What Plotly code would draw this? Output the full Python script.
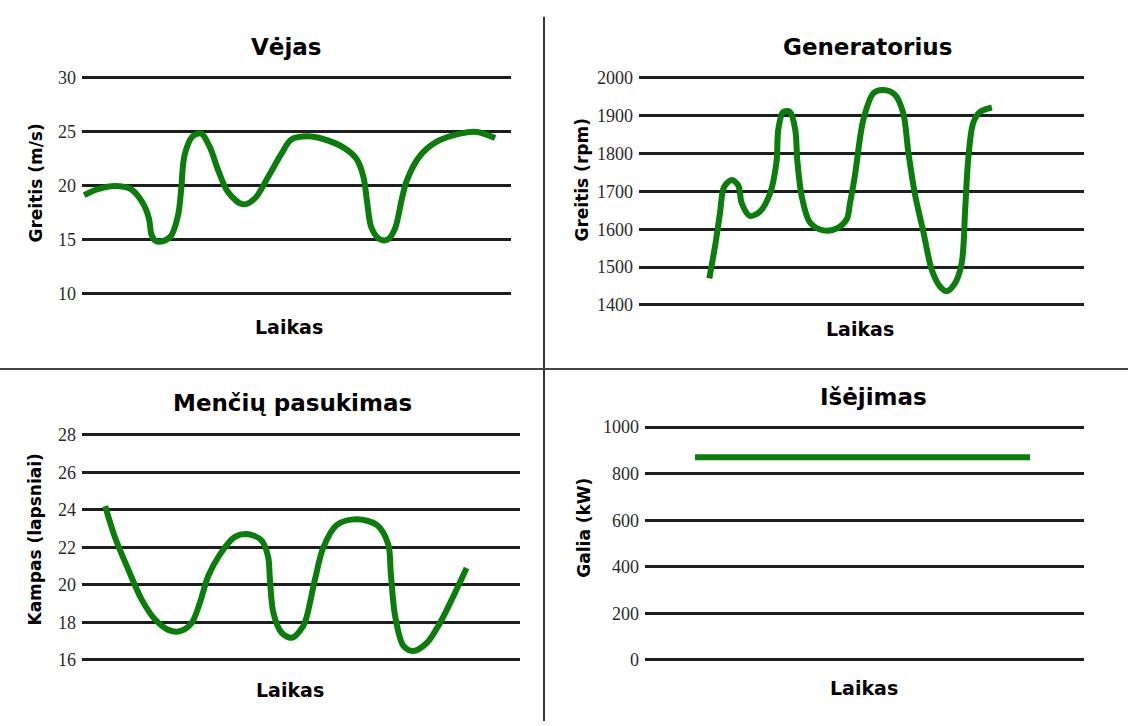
import plotly.graph_objects as go

W, H = 1128, 726

# ---------------- data ----------------
# Panel 1: Vėjas (wind speed, m/s)
wind_t = [0.5, 3.7, 7.7, 11.4, 14.2, 15.6, 16.2, 17.2, 18.4, 20.7, 22.4, 23.1, 23.9,
          25.8, 27.8, 29.8, 31.7, 34.0, 37.5, 40.3, 43.4, 46.5, 48.8, 52.7, 56.2,
          60.8, 64.0, 65.6, 66.4, 67.5, 69.5, 71.3, 73.0, 74.5, 75.7, 78.8, 82.7,
          88.1, 92.0, 96.3]
wind_v = [19.15, 19.7, 20.0, 19.7, 18.4, 17.0, 15.5, 14.9, 14.85, 15.35, 17.3, 19.6,
          22.85, 24.6, 24.85, 23.6, 21.5, 19.45, 18.3, 18.85, 20.85, 23.0, 24.3, 24.6,
          24.35, 23.6, 22.5, 20.85, 18.7, 16.1, 15.05, 15.05, 16.1, 18.7, 20.5, 22.8,
          24.1, 24.85, 25.0, 24.45]
wind_ticks = [10, 15, 20, 25, 30]

# Panel 2: Generatorius (rpm)
gen_t = [15.8, 17.1, 18.2, 19.1, 20.8, 22.3, 23.1, 24.9, 27.2, 29.4, 30.9, 31.3, 32.4,
         33.9, 35.1, 35.6, 36.6, 38.4, 41.4, 44.4, 46.7, 47.4, 48.5, 50.4, 52.7, 54.9,
         57.5, 59.4, 60.5, 62.0, 63.9, 65.8, 67.6, 69.1, 71.0, 72.5, 73.3, 74.0, 75.1,
         76.6, 79.3]
gen_v = [1470, 1556, 1643, 1711, 1730, 1716, 1668, 1635, 1647, 1693, 1778, 1864, 1910,
         1910, 1864, 1778, 1685, 1618, 1597, 1602, 1627, 1668, 1740, 1889, 1960, 1968,
         1956, 1906, 1806, 1693, 1593, 1492, 1449, 1436, 1457, 1509, 1652, 1788, 1881,
         1910, 1922]
gen_ticks = [1400, 1500, 1600, 1700, 1800, 1900, 2000]

# Panel 3: Menčių pasukimas (pitch angle, degrees)
pitch_t = [5.3, 7.5, 10.6, 13.6, 16.7, 19.7, 22.4, 25.0, 26.9, 28.8, 31.5, 34.9, 38.0,
           41.0, 42.5, 42.9, 43.7, 45.6, 47.9, 50.5, 51.3, 53.2, 55.1, 58.2, 62.7,
           67.3, 69.9, 70.5, 71.5, 73.4, 75.6, 78.7, 81.7, 84.8, 87.8]
pitch_v = [24.2, 22.56, 20.8, 19.23, 18.15, 17.6, 17.53, 17.96, 19.04, 20.46, 21.63,
           22.56, 22.7, 22.37, 21.49, 20.3, 18.5, 17.44, 17.18, 17.8, 18.3, 20.3, 22.0,
           23.2, 23.5, 23.2, 22.18, 20.63, 18.32, 16.74, 16.47, 16.9, 17.96, 19.4, 20.9]
pitch_ticks = [16, 18, 20, 22, 24, 26, 28]

# Panel 4: Išėjimas (output power, kW)
power_t = [11.4, 87.7]
power_v = [870, 870]
power_ticks = [0, 200, 400, 600, 800, 1000]

titles = ["Vėjas", "Generatorius", "Menčių pasukimas", "Išėjimas"]
ytitles = ["Greitis (m/s)", "Greitis (rpm)", "Kampas (lapsniai)", "Galia (kW)"]
xtitle = "Laikas"

# ---------------- layout helpers ----------------
PAD = 5


def ydom(ptop, pbot):
    return [1 - (pbot + PAD) / H, 1 - (ptop - PAD) / H]


def yrng(lo, hi, ptop, pbot):
    u = (hi - lo) / (pbot - ptop) * PAD
    return [lo - u, hi + u]


# (x_left_px, x_right_px, y_top_px, y_bottom_px)
boxes = [
    (82, 511, 74, 293),
    (639, 1084, 74, 304),
    (82, 520, 436, 664),
    (645, 1084, 428, 664),
]
series = [(wind_t, wind_v, wind_ticks), (gen_t, gen_v, gen_ticks),
          (pitch_t, pitch_v, pitch_ticks), (power_t, power_v, power_ticks)]

GREEN = "#0b7d0b"
GRID = "#1e1e1e"
tickfont = dict(family="Liberation Serif, DejaVu Serif, serif", size=18, color="#2a2a2a")

fig = go.Figure()
layout = dict(
    width=W, height=H, margin=dict(l=0, r=0, t=0, b=0),
    paper_bgcolor="white", plot_bgcolor="white", showlegend=False,
)

for i, ((t, v, ticks), (xl, xr, yt, yb)) in enumerate(zip(series, boxes)):
    n = "" if i == 0 else str(i + 1)
    shape = "spline" if i < 3 else "linear"
    fig.add_trace(go.Scatter(
        x=t, y=v, mode="lines",
        line=dict(color=GREEN, width=6, shape=shape, smoothing=0.9),
        xaxis="x" + n, yaxis="y" + n, hoverinfo="skip",
    ))
    layout["xaxis" + n] = dict(
        domain=[xl / W, xr / W], range=[0, 100], anchor="y" + n,
        showgrid=False, zeroline=False, showticklabels=False, ticks="",
        showline=False, fixedrange=True,
    )
    layout["yaxis" + n] = dict(
        domain=ydom(yt, yb), range=yrng(min(ticks), max(ticks), yt, yb),
        anchor="x" + n, tickmode="array", tickvals=ticks,
        ticktext=[str(k) for k in ticks],
        showgrid=True, gridcolor=GRID, gridwidth=3, zeroline=False,
        showline=False, ticks="", tickfont=tickfont, ticklabelstandoff=5,
        fixedrange=True,
    )

fig.update_layout(**layout)

# titles and axis labels
title_pos = [(286, 43), (868, 43), (293, 404), (873, 397)]
xlab_pos = [(289, 327), (860, 329), (290, 695), (864, 693)]
ylab_pos = [(36, 181), (582, 177), (35, 542), (584, 530)]
ann = []
for i in range(4):
    tx, ty = title_pos[i]
    ann.append(dict(text="<b>%s</b>" % titles[i], x=tx / W, y=1 - ty / H,
                    xref="paper", yref="paper", showarrow=False,
                    xanchor="center", yanchor="middle",
                    font=dict(family="DejaVu Sans", size=23, color="black")))
    lx, ly = xlab_pos[i]
    ann.append(dict(text="<b>%s</b>" % xtitle, x=lx / W, y=1 - ly / H,
                    xref="paper", yref="paper", showarrow=False,
                    xanchor="center", yanchor="middle",
                    font=dict(family="DejaVu Sans", size=19, color="black")))
    yx, yy = ylab_pos[i]
    ann.append(dict(text="<b>%s</b>" % ytitles[i], x=yx / W, y=1 - yy / H,
                    xref="paper", yref="paper", showarrow=False, textangle=-90,
                    xanchor="center", yanchor="middle",
                    font=dict(family="DejaVu Sans", size=17, color="black")))
fig.update_layout(annotations=ann)

# panel separators
fig.update_layout(shapes=[
    dict(type="line", xref="paper", yref="paper", x0=544 / W, x1=544 / W,
         y0=0, y1=1 - 12 / H, line=dict(color="#333333", width=2)),
    dict(type="line", xref="paper", yref="paper", x0=0, x1=1,
         y0=1 - 369 / H, y1=1 - 369 / H, line=dict(color="#444444", width=2)),
])

fig.write_html("out.html",
               config={"displayModeBar": False, "staticPlot": False},
               post_script="document.body.style.margin='0px';"
                           "document.body.style.overflow='hidden';")
